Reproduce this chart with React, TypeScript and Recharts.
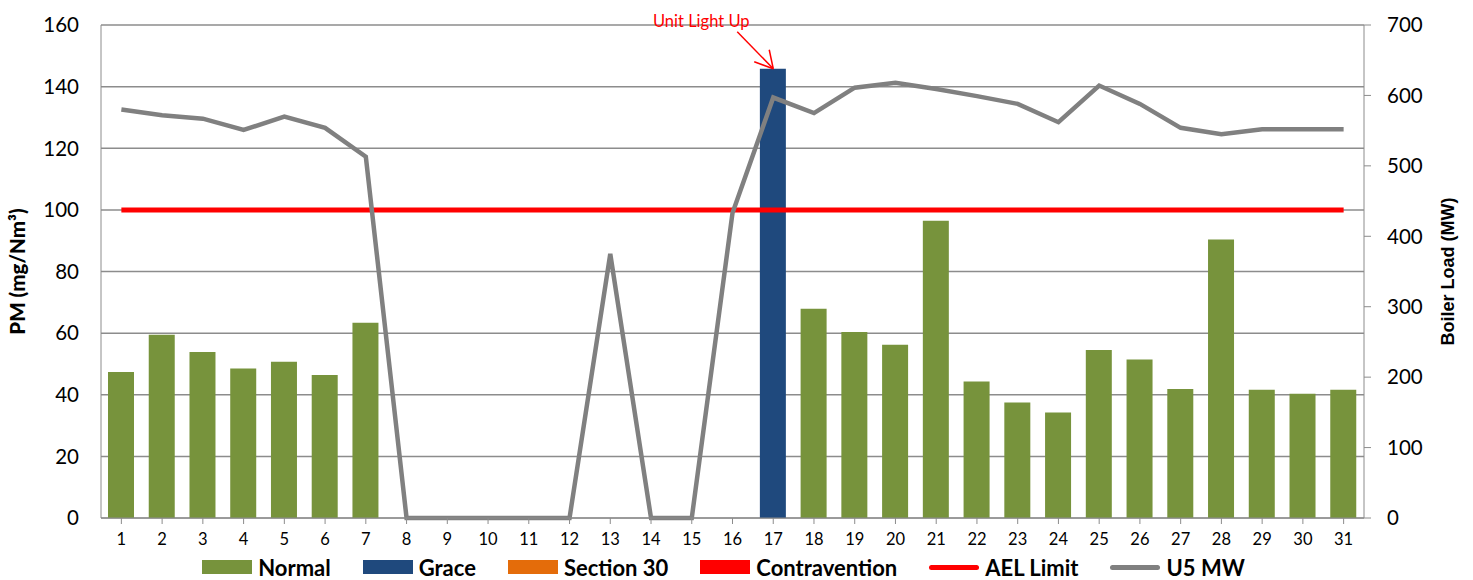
import { ComposedChart, Bar, Line, XAxis, YAxis, CartesianGrid, Legend, ReferenceDot } from "recharts";

// Day of month
const days = [
  "1", "2", "3", "4", "5", "6", "7", "8", "9", "10", "11", "12", "13", "14", "15", "16",
  "17", "18", "19", "20", "21", "22", "23", "24", "25", "26", "27", "28", "29", "30", "31",
];

// Daily PM (mg/Nm³) by status
const normal = [
  47.4, 59.5, 53.9, 48.5, 50.7, 46.4, 63.4,
  null, null, null, null, null, null, null, null, null, null,
  67.9, 60.4, 56.2, 96.5, 44.3, 37.5, 34.2, 54.5, 51.4, 41.9, 90.4, 41.6, 40.3, 41.6,
];
const grace = [
  null, null, null, null, null, null, null, null, null, null, null, null, null, null, null, null,
  145.8,
  null, null, null, null, null, null, null, null, null, null, null, null, null, null,
];
const section30: (number | null)[] = days.map(() => null);
const contravention: (number | null)[] = days.map(() => null);

const AEL_LIMIT = 100;

// Unit 5 boiler load (MW)
const u5mw = [
  580, 572, 567, 551, 570, 554, 513, 0, 0, 0, 0, 0, 375, 0, 0, 433,
  597, 575, 611, 618, 609, 599, 588, 562, 614, 588, 554, 545, 552, 552, 552,
];

const pmTicks = [0, 20, 40, 60, 80, 100, 120, 140, 160];
const mwTicks = [0, 100, 200, 300, 400, 500, 600, 700];

const COLORS = {
  normal: "#77933C",
  grace: "#1F497D",
  section30: "#E46C0A",
  contravention: "#FF0000",
  ael: "#FF0000",
  u5: "#808080",
  grid: "#8c8c8c",
};

const data = days.map((day, i) => ({
  day,
  normal: normal[i],
  grace: grace[i],
  section30: section30[i],
  contravention: contravention[i],
  ael: AEL_LIMIT,
  u5mw: u5mw[i],
}));

const legendItems = [
  { label: "Normal", color: COLORS.normal, kind: "box" },
  { label: "Grace", color: COLORS.grace, kind: "box" },
  { label: "Section 30", color: COLORS.section30, kind: "box" },
  { label: "Contravention", color: COLORS.contravention, kind: "box" },
  { label: "AEL Limit", color: COLORS.ael, kind: "line" },
  { label: "U5 MW", color: COLORS.u5, kind: "line" },
];

const FONT = "Lato, 'Open Sans', sans-serif";

function LegendContent() {
  return (
    <div
      style={{
        display: "flex",
        justifyContent: "center",
        alignItems: "center",
        height: 26,
        paddingRight: 26,
        fontFamily: FONT,
        fontWeight: 700,
        fontSize: 22,
        color: "#000",
      }}
    >
      {legendItems.map((it, i) => (
        <div
          key={it.label}
          style={{ display: "flex", alignItems: "center", marginRight: i === legendItems.length - 1 ? 0 : 32 }}
        >
          <span
            style={{
              display: "inline-block",
              width: 50,
              height: it.kind === "box" ? 14 : 5,
              borderRadius: it.kind === "box" ? 0 : 3,
              background: it.color,
              marginRight: 6,
            }}
          />
          <span>{it.label}</span>
        </div>
      ))}
    </div>
  );
}

// Arrow + caption pointing at the light-up day
function LightUpNote(props: any) {
  const { cx, cy } = props;
  const red = "#FF0000";
  return (
    <g>
      <line x1={cx - 36} y1={cy - 37} x2={cx} y2={cy} stroke={red} strokeWidth={1.5} />
      <line x1={cx - 19} y1={cy - 7} x2={cx} y2={cy} stroke={red} strokeWidth={1.5} />
      <line x1={cx - 4} y1={cy - 19} x2={cx} y2={cy} stroke={red} strokeWidth={1.5} />
      <text x={cx - 72} y={cy - 42} textAnchor="middle" fill={red} fontFamily={FONT} fontSize={16.5}>
        Unit Light Up
      </text>
    </g>
  );
}

export default function App() {
  return (
    <div style={{ position: "absolute", left: 0, top: 0, background: "#fff" }}>
      <ComposedChart width={1473} height={580} data={data} margin={{ top: 25, right: 0, bottom: 0, left: 0 }}>
        <CartesianGrid yAxisId="left" vertical={false} stroke={COLORS.grid} strokeWidth={1.5} />
        <XAxis
          dataKey="day"
          interval={0}
          height={36}
          stroke={COLORS.grid}
          tickSize={6}
          tickMargin={9}
          tick={{ fill: "#000", fontFamily: FONT, fontSize: 16.5 }}
        />
        <YAxis
          yAxisId="left"
          domain={[0, 160]}
          ticks={pmTicks}
          width={101}
          stroke={COLORS.grid}
          tickLine={false}
          tickSize={6}
          tickMargin={16}
          tick={{ fill: "#000", fontFamily: FONT, fontSize: 20.5 }}
          label={{
            value: "PM (mg/Nm³)",
            angle: -90,
            position: "insideLeft",
            offset: 18,
            style: { textAnchor: "middle", fill: "#000", fontFamily: FONT, fontWeight: 900, fontSize: 20.5 },
          }}
        />
        <YAxis
          yAxisId="right"
          orientation="right"
          domain={[0, 700]}
          ticks={mwTicks}
          width={109}
          stroke={COLORS.grid}
          tickSize={7}
          tickMargin={16}
          tick={{ fill: "#000", fontFamily: FONT, fontSize: 20.5 }}
          label={{
            value: "Boiler Load (MW)",
            angle: -90,
            position: "insideRight",
            offset: 25,
            style: {
              textAnchor: "middle",
              fill: "#000",
              fontFamily: "'Liberation Sans', Arial, sans-serif",
              fontWeight: 700,
              fontSize: 18,
            },
          }}
        />
        <Legend verticalAlign="bottom" content={() => <LegendContent />} wrapperStyle={{ left: 0, width: 1473 }} />
        <Bar yAxisId="left" dataKey="normal" name="Normal" stackId="pm" barSize={26} fill={COLORS.normal} isAnimationActive={false} />
        <Bar yAxisId="left" dataKey="grace" name="Grace" stackId="pm" barSize={26} fill={COLORS.grace} isAnimationActive={false} />
        <Bar yAxisId="left" dataKey="section30" name="Section 30" stackId="pm" barSize={26} fill={COLORS.section30} isAnimationActive={false} />
        <Bar yAxisId="left" dataKey="contravention" name="Contravention" stackId="pm" barSize={26} fill={COLORS.contravention} isAnimationActive={false} />
        <Line yAxisId="left" dataKey="ael" name="AEL Limit" type="linear" stroke={COLORS.ael} strokeWidth={5} dot={false} activeDot={false} isAnimationActive={false} />
        <Line yAxisId="right" dataKey="u5mw" name="U5 MW" type="linear" stroke={COLORS.u5} strokeWidth={4.5} dot={false} activeDot={false} isAnimationActive={false} />
        <ReferenceDot yAxisId="left" x="17" y={grace[16] as number} ifOverflow="visible" shape={LightUpNote} />
      </ComposedChart>
    </div>
  );
}
